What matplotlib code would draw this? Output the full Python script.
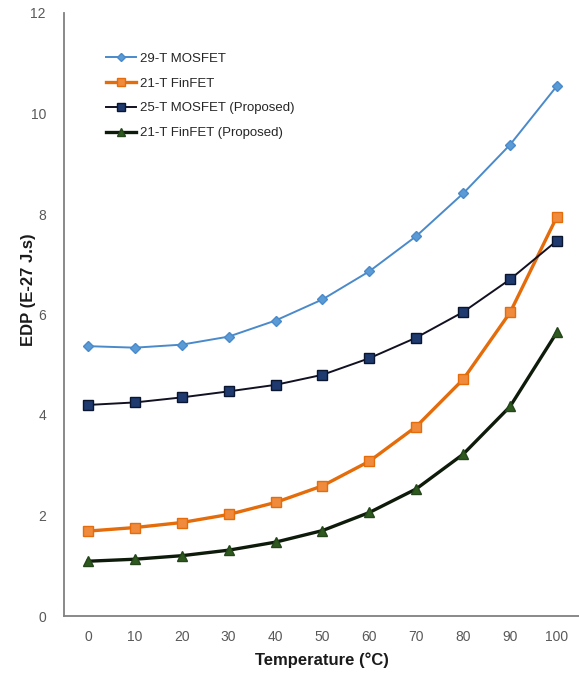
import matplotlib
matplotlib.use("Agg")
import matplotlib.pyplot as plt
from matplotlib import font_manager

temperature = [0, 10, 20, 30, 40, 50, 60, 70, 80, 90, 100]
mosfet_29t = [5.37, 5.34, 5.40, 5.56, 5.88, 6.30, 6.86, 7.56, 8.41, 9.38, 10.55]
finfet_21t = [1.69, 1.76, 1.86, 2.02, 2.26, 2.59, 3.08, 3.77, 4.71, 6.04, 7.95]
mosfet_25t_prop = [4.20, 4.25, 4.35, 4.47, 4.60, 4.80, 5.13, 5.54, 6.05, 6.70, 7.47]
finfet_21t_prop = [1.09, 1.13, 1.20, 1.31, 1.47, 1.70, 2.06, 2.53, 3.22, 4.17, 5.65]
y_ticks = [0, 2, 4, 6, 8, 10, 12]

names = {f.name for f in font_manager.fontManager.ttflist}
narrow = "Liberation Sans Narrow" if "Liberation Sans Narrow" in names else "Liberation Sans"
plt.rcParams["font.family"] = [narrow, "DejaVu Sans"]

fig = plt.figure(figsize=(5.79, 6.73), dpi=100)
ax = fig.add_axes([64 / 579, 57 / 673, 516 / 579, 603 / 673])

ax.plot(temperature, mosfet_29t, color="#4A8ACB", lw=1.4, marker="D", ms=5,
        mfc="#5B9BD5", mec="#4A8ACB", label="29-T MOSFET")
ax.plot(temperature, finfet_21t, color="#E46C0A", lw=2.4, marker="s", ms=7,
        mfc="#F08A3C", mec="#E46C0A", label="21-T FinFET")
ax.plot(temperature, mosfet_25t_prop, color="#111122", lw=1.4, marker="s", ms=7,
        mfc="#1F3A6E", mec="#0A1530", label="25-T MOSFET (Proposed)")
ax.plot(temperature, finfet_21t_prop, color="#0E1A0A", lw=2.4, marker="^", ms=7,
        mfc="#2F5A1F", mec="#24461A", label="21-T FinFET (Proposed)")

ax.set_xlim(-5.1, 104.9)
ax.set_ylim(0, 12)
ax.set_xticks(temperature)
ax.set_yticks(y_ticks)
ax.tick_params(axis="both", length=0, labelsize=10, colors="#595959")
ax.tick_params(axis="y", pad=13)
ax.tick_params(axis="x", pad=10)

for side in ("top", "right"):
    ax.spines[side].set_visible(False)
for side in ("left", "bottom"):
    ax.spines[side].set_color("#808080")
    ax.spines[side].set_linewidth(1.3)

ax.set_xlabel("Temperature (°C)", fontsize=12, fontweight="bold", color="#1a1a1a")
ax.xaxis.set_label_coords((322 - 64) / 516, -(652 - 616) / 603)
ax.set_ylabel("EDP (E-27 J.s)", fontsize=12, fontweight="bold", color="#1a1a1a")
ax.yaxis.set_label_coords(-(64 - 36) / 516, (616 - 290) / 603)

leg = ax.legend(loc="upper left", bbox_to_anchor=(0.058, 0.954), frameon=False,
                fontsize=9.5, labelspacing=0.95, handlelength=2.3, handletextpad=0.3,
                markerscale=0.75)
for t in leg.get_texts():
    t.set_color("#262626")

fig.savefig("out.png", dpi=100)
